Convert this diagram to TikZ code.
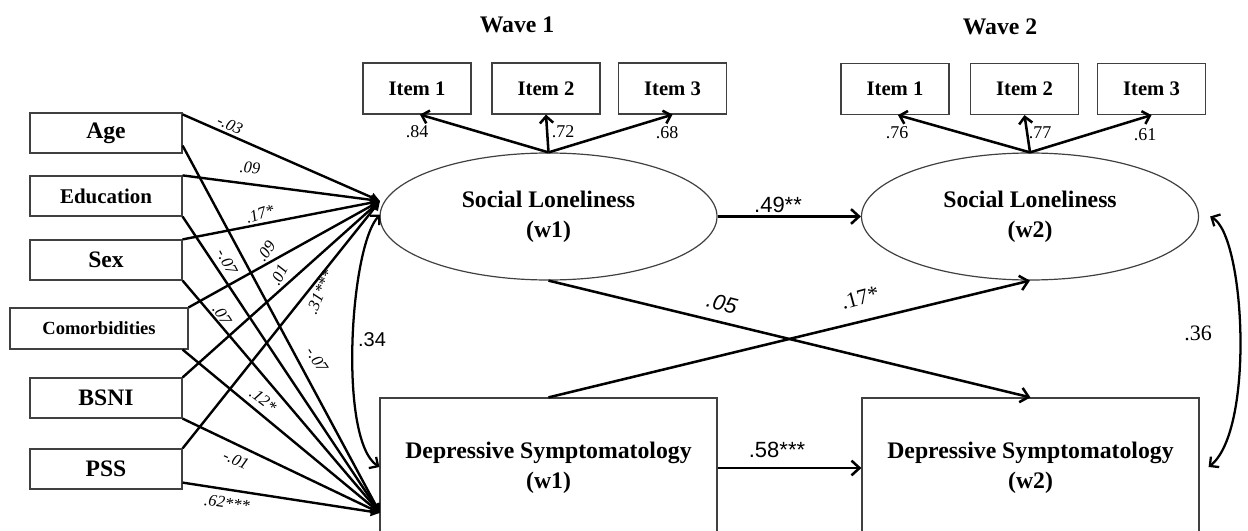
\documentclass[tikz,border=0pt]{standalone}
\usepackage{fontspec}
\setmainfont{Liberation Serif}
\newfontfamily\arialfont{Liberation Sans}
\usetikzlibrary{arrows.meta,calc,shapes.geometric}

\begin{document}
\begin{tikzpicture}[x=0.75pt, y=-0.75pt,
    covar/.style = {draw=black!75, line width=0.9pt, minimum width=114pt, minimum height=30pt, inner sep=0pt, font=\bfseries\fontsize{17.7}{20}\selectfont},
    item/.style = {draw=black!75, line width=0.9pt, minimum width=81pt, minimum height=38.25pt, inner sep=0pt, font=\bfseries\fontsize{15.5}{18}\selectfont},
    latent/.style = {draw=black!75, line width=0.9pt, ellipse, minimum width=252.75pt, minimum height=95.25pt, inner sep=0pt, align=center, font=\bfseries\fontsize{17.8}{22.5}\selectfont},
    obs/.style = {draw=black!75, line width=0.9pt, minimum width=252.75pt, minimum height=105pt, inner sep=0pt, align=center, font=\bfseries\fontsize{17.8}{22.5}\selectfont},
    covpath/.style = {line width=1.8pt, -{Triangle[length=7pt,width=6.5pt]}},
    load/.style = {line width=1.9pt, -{Straight Barb[length=5pt,width=10pt]}},
    effect/.style = {line width=1.9pt, -{Straight Barb[length=6pt,width=11pt]}},
    corr/.style = {line width=1.7pt, {Straight Barb[length=5pt,width=10pt]}-{Straight Barb[length=5pt,width=10pt]}},
    lbl/.style = {inner sep=0pt, font=\itshape\fontsize{12.4}{14}\selectfont},
    loadlbl/.style = {inner sep=0pt, font=\fontsize{13.5}{15}\selectfont},
    coef/.style = {inner sep=0pt, font=\arialfont\fontsize{16.5}{20}\selectfont}]
    \useasboundingbox (0,0) rectangle (1248,531);

    % covariates
    \node[covar] (age) at (106,133) {Age};
    \node[covar, font=\bfseries\fontsize{15.7}{18}\selectfont] (edu) at (106,196) {Education};
    \node[covar] (sex) at (106,260) {Sex};
    \node[covar, minimum width=133.5pt, minimum height=30.75pt, font=\bfseries\fontsize{13.9}{16}\selectfont] (com) at (99,328.5) {Comorbidities};
    \node[covar] (bsni) at (106,398) {BSNI};
    \node[covar] (pss) at (106,469) {PSS};

    % wave 1
    \node[font=\bfseries\fontsize{17.8}{20}\selectfont] (wave1) at (517,25) {Wave 1};
    \node[item] (i11) at (417,88.5) {Item 1};
    \node[item] (i12) at (546,88.5) {Item 2};
    \node[item] (i13) at (672.5,88.5) {Item 3};
    \node[latent] (sl1) at (548.5,216.5) {Social Loneliness\\(w1)};
    \node[obs] (ds1) at (548.5,468) {Depressive Symptomatology\\(w1)};

    % wave 2
    \node[font=\bfseries\fontsize{17.8}{20}\selectfont] (wave2) at (1000,27) {Wave 2};
    \node[item] (i21) at (895,89) {Item 1};
    \node[item] (i22) at (1024.5,89) {Item 2};
    \node[item] (i23) at (1151.5,89) {Item 3};
    \node[latent] (sl2) at (1030,216.5) {Social Loneliness\\(w2)};
    \node[obs] (ds2) at (1030.5,468) {Depressive Symptomatology\\(w2)};

    \coordinate (slin) at (380,201);
    \coordinate (dsin) at (380,513);

    % covariate paths
    \draw[covpath] ($(age.north east)+(0,2)$) -- (slin);
    \draw[covpath] (edu.north east) -- (slin);
    \draw[covpath] (sex.north east) -- (slin);
    \draw[covpath] (com.north east) -- (slin);
    \draw[covpath] (bsni.north east) -- (slin);
    \draw[covpath] (pss.north east) -- (slin);
    \draw[covpath] ($(age.south east)+(0,-8)$) -- (dsin);
    \draw[covpath] (edu.south east) -- (dsin);
    \draw[covpath] (sex.south east) -- (dsin);
    \draw[covpath] ($(com.south east)+(-6,0)$) -- (dsin);
    \draw[covpath] (bsni.south east) -- (dsin);
    \draw[covpath] ($(pss.south east)+(0,-7)$) -- (dsin);

    \node[lbl, rotate=-25] (lage1) at (230,125) {-.03};
    \node[lbl, rotate=-4] (ledu1) at (250,168) {.09};
    \node[lbl, rotate=18] (lsex1) at (260,214) {.17*};
    \node[lbl, rotate=55] (lcom1) at (266,251) {.09};
    \node[lbl, rotate=62] (lbsni1) at (279,275) {.01};
    \node[lbl, rotate=67] (lpss1) at (320,292) {.31***};
    \node[lbl, rotate=-62] (ledu2) at (227,262) {-.07};
    \node[lbl, rotate=-57] (lsex2) at (222,315) {.07};
    \node[lbl, rotate=-57] (lage2) at (317,360) {-.07};
    \node[lbl, rotate=-38] (lcom2) at (263,400) {.12*};
    \node[lbl, rotate=-25] (lbsni2) at (236,460) {-.01};
    \node[lbl, rotate=-8] (lpss2) at (227,503) {.62***};

    % loadings
    \draw[load] (sl1.north) -- ($(i11.south)+(3,0)$);
    \draw[load] (sl1.north) -- (i12.south);
    \draw[load] (sl1.north) -- (i13.south);
    \draw[load] (sl2.north) -- ($(i21.south)+(3,0)$);
    \draw[load] (sl2.north) -- (i22.south);
    \draw[load] (sl2.north) -- (i23.south);
    \node[loadlbl] (l11) at (417,132) {.84};
    \node[loadlbl] (l12) at (563,132) {.72};
    \node[loadlbl] (l13) at (667,133) {.68};
    \node[loadlbl] (l21) at (897,133) {.76};
    \node[loadlbl] (l22) at (1040,133) {.77};
    \node[loadlbl] (l23) at (1145,135) {.61};

    % structural paths
    \draw[effect] (sl1.east) -- (sl2.west);
    \draw[effect] (ds1.east) -- (ds2.west);
    \draw[effect] (sl1.south) -- (ds2.north);
    \draw[effect] (ds1.north) -- (sl2.south);
    \node[coef] (b1) at (778,205) {.49**};
    \node[coef] (b2) at (777,450) {.58***};
    \node[coef, font=\arialfont\itshape\fontsize{16.5}{19}\selectfont, rotate=-14] (b3) at (722,303) {.05};
    \node[inner sep=0pt, font=\fontsize{16.5}{19}\selectfont, rotate=15] (b4) at (860,298) {.17*};

    % covariances
    \draw[corr] ($(sl1.west)+(1,-2)$) .. controls (350,245) and (338,440) .. ($(ds1.west)+(0,-1)$);
    \draw[corr] ($(sl2.east)+(11,0)$) .. controls (1245,235) and (1255,430) .. ($(ds2.east)+(9,-1)$);
    \node[coef, font=\arialfont\fontsize{15}{18}\selectfont] (r1) at (372,340) {.34};
    \node[inner sep=0pt, font=\fontsize{16.5}{19}\selectfont] (r2) at (1198,333) {.36};
\end{tikzpicture}
\end{document}
